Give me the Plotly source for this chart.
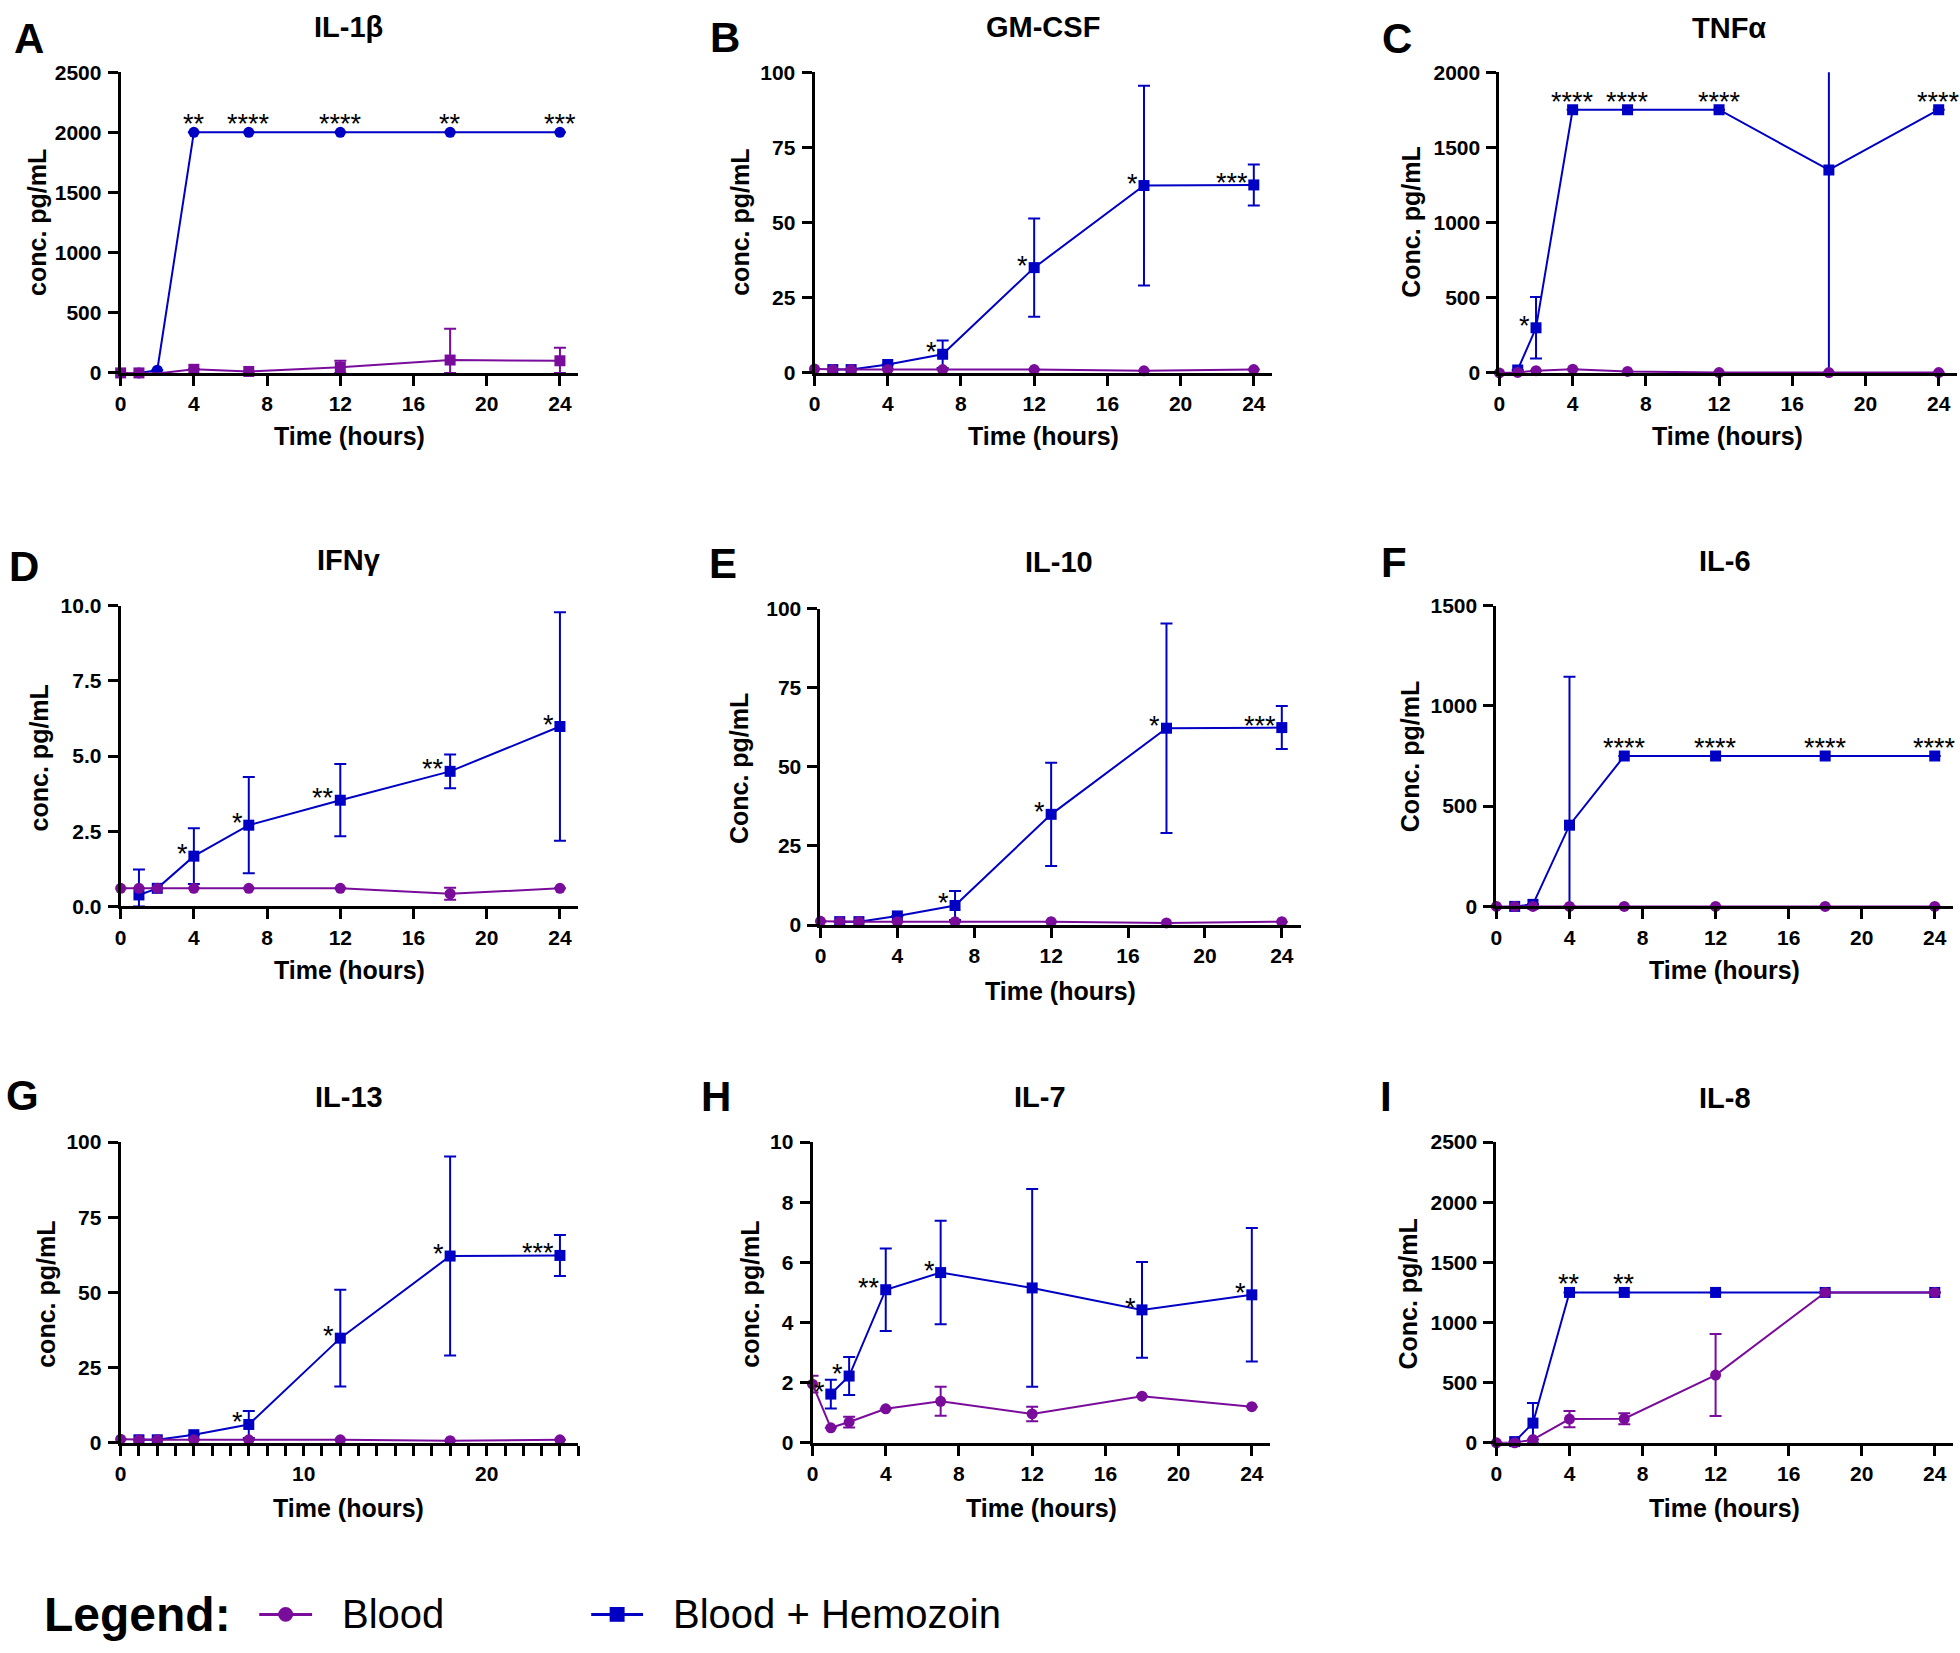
import plotly.graph_objects as go

W, H = 1960, 1653
BLUE = "#0000C4"
PURPLE = "#7A0C9C"
FONT = "Liberation Sans, Arial, sans-serif"

# ---------------- data ----------------
t_blood = [0, 1, 2, 4, 7, 12, 18, 24]
t_hz = [1, 2, 4, 7, 12, 18, 24]

il1b_blood = [0, 0, -5, 30, 12, 46, 107, 101]
il1b_blood_err = [0, 0, 0, 0, 0, 55, 260, 109]
il1b_hz = [0, 22, 2000, 2000, 2000, 2000, 2000]
il1b_hz_err = [0, 0, 0, 0, 0, 0, 0]
il1b_sig = ["", "", "**", "****", "****", "**", "***"]

gmcsf_blood = [1.3, 1.1, 1.1, 1.1, 1.1, 1.1, 0.7, 1.1]
gmcsf_blood_err = [0, 0, 0, 0, 0, 0, 0, 0]
gmcsf_hz = [1.1, 1.1, 2.8, 6.2, 35.0, 62.3, 62.5]
gmcsf_hz_err = [0, 0, 0, 4.6, 16.3, 33.2, 6.8]
gmcsf_sig = ["", "", "", "*", "*", "*", "***"]

tnfa_blood = [0, 3, 15, 25, 10, 2, 2, 2]
tnfa_blood_err = [0, 0, 0, 0, 0, 0, 0, 0]
tnfa_hz = [20, 300, 1750, 1750, 1750, 1350, 1750]
tnfa_hz_err = [0, 205, 0, 0, 0, 1350, 0]
tnfa_sig = ["", "*", "****", "****", "****", "", "****"]

ifng_blood = [0.6, 0.6, 0.6, 0.6, 0.6, 0.6, 0.42, 0.6]
ifng_blood_err = [0, 0, 0, 0, 0, 0, 0.2, 0]
ifng_hz = [0.38, 0.6, 1.67, 2.7, 3.53, 4.49, 5.98]
ifng_hz_err = [0.85, 0, 0.93, 1.6, 1.2, 0.56, 3.8]
ifng_sig = ["", "", "*", "*", "**", "**", "*"]

il10_blood = [1.2, 1.1, 1.1, 1.1, 1.1, 1.1, 0.7, 1.1]
il10_blood_err = [0, 0, 0, 0, 0, 0, 0, 0]
il10_hz = [1.1, 1.1, 2.9, 6.2, 35.0, 62.2, 62.4]
il10_hz_err = [0, 0, 0, 4.6, 16.3, 33.1, 6.8]
il10_sig = ["", "", "", "*", "*", "*", "***"]

il6_blood = [0, 0, 0, 0, 0, 0, 0, 0]
il6_blood_err = [0, 0, 0, 0, 0, 0, 0, 0]
il6_hz = [0, 10, 405, 750, 750, 750, 750]
il6_hz_err = [0, 0, 740, 0, 0, 0, 0]
il6_sig = ["", "", "", "****", "****", "****", "****"]

il13_blood = [1.2, 1.0, 1.0, 1.0, 1.0, 1.0, 0.7, 1.0]
il13_blood_err = [0, 0, 0, 0, 0, 0, 0, 0]
il13_hz = [1.0, 1.0, 2.7, 6.1, 34.8, 62.1, 62.3]
il13_hz_err = [0, 0, 0, 4.5, 16.1, 33.1, 6.8]
il13_sig = ["", "", "", "*", "*", "*", "***"]

il7_blood = [1.95, 0.5, 0.69, 1.13, 1.38, 0.96, 1.55, 1.2]
il7_blood_err = [0.28, 0, 0.18, 0, 0.48, 0.24, 0, 0]
il7_hz = [1.62, 2.22, 5.09, 5.66, 5.15, 4.42, 4.92]
il7_hz_err = [0.48, 0.63, 1.37, 1.72, 3.29, 1.59, 2.22]
il7_sig = ["*", "*", "**", "*", "", "*", "*"]

il8_blood = [0, 0, 27, 197, 200, 563, 1250, 1250]
il8_blood_err = [0, 0, 0, 68, 45, 341, 0, 0]
il8_hz = [10, 164, 1250, 1250, 1250, 1250, 1250]
il8_hz_err = [0, 167, 0, 0, 0, 0, 0]
il8_sig = ["", "", "**", "**", "", "", ""]

panels = [
    dict(letter="A", title="IL-1β", ytitle="conc. pg/mL", ymax=2500, ytick=[0, 500, 1000, 1500, 2000, 2500], yfmt="d",
         blood=il1b_blood, blood_err=il1b_blood_err, hz=il1b_hz, hz_err=il1b_hz_err, sig=il1b_sig,
         sig_style="above", swap=True, xmode="h4"),
    dict(letter="B", title="GM-CSF", ytitle="conc. pg/mL", ymax=100, ytick=[0, 25, 50, 75, 100], yfmt="d",
         blood=gmcsf_blood, blood_err=gmcsf_blood_err, hz=gmcsf_hz, hz_err=gmcsf_hz_err, sig=gmcsf_sig,
         sig_style="left", swap=False, xmode="h4"),
    dict(letter="C", title="TNFα", ytitle="Conc. pg/mL", ymax=2000, ytick=[0, 500, 1000, 1500, 2000], yfmt="d",
         blood=tnfa_blood, blood_err=tnfa_blood_err, hz=tnfa_hz, hz_err=tnfa_hz_err, sig=tnfa_sig,
         sig_style="mixed", swap=False, xmode="h4"),
    dict(letter="D", title="IFNγ", ytitle="conc. pg/mL", ymax=10, ytick=[0, 2.5, 5, 7.5, 10], yfmt=".1f",
         blood=ifng_blood, blood_err=ifng_blood_err, hz=ifng_hz, hz_err=ifng_hz_err, sig=ifng_sig,
         sig_style="left", swap=False, xmode="h4"),
    dict(letter="E", title="IL-10", ytitle="Conc. pg/mL", ymax=100, ytick=[0, 25, 50, 75, 100], yfmt="d",
         blood=il10_blood, blood_err=il10_blood_err, hz=il10_hz, hz_err=il10_hz_err, sig=il10_sig,
         sig_style="left", swap=False, xmode="h4"),
    dict(letter="F", title="IL-6", ytitle="Conc. pg/mL", ymax=1500, ytick=[0, 500, 1000, 1500], yfmt="d",
         blood=il6_blood, blood_err=il6_blood_err, hz=il6_hz, hz_err=il6_hz_err, sig=il6_sig,
         sig_style="above", swap=False, xmode="h4"),
    dict(letter="G", title="IL-13", ytitle="conc. pg/mL", ymax=100, ytick=[0, 25, 50, 75, 100], yfmt="d",
         blood=il13_blood, blood_err=il13_blood_err, hz=il13_hz, hz_err=il13_hz_err, sig=il13_sig,
         sig_style="left", swap=False, xmode="h10"),
    dict(letter="H", title="IL-7", ytitle="conc. pg/mL", ymax=10, ytick=[0, 2, 4, 6, 8, 10], yfmt="d",
         blood=il7_blood, blood_err=il7_blood_err, hz=il7_hz, hz_err=il7_hz_err, sig=il7_sig,
         sig_style="left", swap=False, xmode="h4"),
    dict(letter="I", title="IL-8", ytitle="Conc. pg/mL", ymax=2500, ytick=[0, 500, 1000, 1500, 2000, 2500], yfmt="d",
         blood=il8_blood, blood_err=il8_blood_err, hz=il8_hz, hz_err=il8_hz_err, sig=il8_sig,
         sig_style="above", swap=False, xmode="h4"),
]

# ---------------- layout geometry (pixels) ----------------
geom = {
    "A": dict(x0=115, x1=574, y0=61, y1=366, tt=(344, 15), lt=(23, 27), xt=(345, 430), yt=(31, 213)),
    "B": dict(x0=811, x1=1270, y0=61, y1=366, tt=(1040, 15), lt=(721, 26), xt=(1041, 430), yt=(736, 213)),
    "C": dict(x0=1498, x1=1957, y0=61, y1=366, tt=(1728, 16), lt=(1395, 27), xt=(1727, 430), yt=(1409, 213)),
    "D": dict(x0=115, x1=574, y0=602, y1=907, tt=(344, 556), lt=(18, 562), xt=(345, 972), yt=(34, 756)),
    "E": dict(x0=817, x1=1299, y0=605, y1=926, tt=(1056, 558), lt=(719, 559), xt=(1058, 993), yt=(736, 767)),
    "F": dict(x0=1495, x1=1953, y0=602, y1=907, tt=(1724, 557), lt=(1392, 558), xt=(1724, 972), yt=(1409, 755)),
    "G": dict(x0=115, x1=574, y0=1146, y1=1451, tt=(344, 1100), lt=(17, 1099), xt=(344, 1517), yt=(40, 1300)),
    "H": dict(x0=809, x1=1268, y0=1146, y1=1451, tt=(1037, 1100), lt=(712, 1100), xt=(1039, 1517), yt=(746, 1300)),
    "I": dict(x0=1495, x1=1953, y0=1146, y1=1451, tt=(1724, 1101), lt=(1384, 1100), xt=(1724, 1517), yt=(1406, 1300)),
}


def px(x):
    return x / W


def py(y):
    return 1 - y / H


fig = go.Figure()
annotations = []
shapes = []

bold = dict(family=FONT, color="black", weight="bold")


def err_arrays(vals, errs):
    plus, minus = [], []
    for v, e in zip(vals, errs):
        if e and e > 0:
            plus.append(e)
            minus.append(min(e, max(v, 0)))
        else:
            plus.append(None)
            minus.append(None)
    return plus, minus


for i, p in enumerate(panels):
    g = geom[p["letter"]]
    n = "" if i == 0 else str(i + 1)
    xa, ya = "x" + n, "y" + n
    xkey, ykey = "xaxis" + n, "yaxis" + n

    hz_sym, bl_sym = ("circle", "square") if p["swap"] else ("square", "circle")

    for name, xs, ys, es, color, sym in [
        ("Blood + Hemozoin", t_hz, p["hz"], p["hz_err"], BLUE, hz_sym),
        ("Blood", t_blood, p["blood"], p["blood_err"], PURPLE, bl_sym),
    ]:
        plus, minus = err_arrays(ys, es)
        over_top = any(e and v + e > p["ymax"] for v, e in zip(ys, es))
        fig.add_trace(go.Scatter(
            x=xs, y=ys, xaxis=xa, yaxis=ya, name=name, showlegend=False,
            mode="lines+markers",
            line=dict(color=color, width=2),
            marker=dict(color=color, size=11, symbol=sym),
            error_y=dict(type="data", symmetric=False, array=plus, arrayminus=minus,
                         color=color, thickness=2, width=6, visible=True),
            cliponaxis=over_top,
        ))

    # significance marks
    for k, s in enumerate(p["sig"]):
        if not s:
            continue
        style = p["sig_style"]
        if style == "mixed":
            style = "left" if s == "*" else "above"
        if style == "above":
            annotations.append(dict(x=t_hz[k], y=p["hz"][k], xref=xa, yref=ya, text=s, showarrow=False,
                                    xanchor="center", yanchor="middle", yshift=8,
                                    font=dict(family=FONT, size=27, color="black")))
        else:
            annotations.append(dict(x=t_hz[k], y=p["hz"][k], xref=xa, yref=ya, text=s, showarrow=False,
                                    xanchor="right", yanchor="middle", xshift=-4, yshift=2,
                                    font=dict(family=FONT, size=27, color="black")))

    axis_common = dict(showline=True, linewidth=3, linecolor="black", ticks="outside", ticklen=10,
                       tickwidth=3, tickcolor="black", showgrid=False, zeroline=False,
                       tickfont=dict(family=FONT, size=21, color="black", weight="bold"))
    if p["xmode"] == "h10":
        xaxis = dict(range=[0, 25], tickvals=[0, 10, 20],
                     minor=dict(tickvals=list(range(0, 26)), ticks="outside", ticklen=10, tickwidth=3,
                                tickcolor="black", showgrid=False), **axis_common)
    else:
        xaxis = dict(range=[0, 25], tickvals=[0, 4, 8, 12, 16, 20, 24], **axis_common)
    xaxis.update(domain=[px(g["x0"]), px(g["x1"])], anchor=ya, ticklabelstandoff=0)
    yaxis = dict(range=[0, p["ymax"]], tickvals=p["ytick"], tickformat=p["yfmt"],
                 domain=[py(g["y1"]), py(g["y0"])], anchor=xa, ticklabelstandoff=2, **axis_common)
    fig.update_layout({xkey: xaxis, ykey: yaxis})

    # titles, letters, axis labels
    annotations.append(dict(x=px(g["tt"][0]), y=py(g["tt"][1]), xref="paper", yref="paper", text=p["title"],
                            showarrow=False, xanchor="center", yanchor="middle", font=dict(size=29, **bold)))
    annotations.append(dict(x=px(g["lt"][0]), y=py(g["lt"][1]), xref="paper", yref="paper", text=p["letter"],
                            showarrow=False, xanchor="center", yanchor="middle", font=dict(size=42, **bold)))
    annotations.append(dict(x=px(g["xt"][0]), y=py(g["xt"][1]), xref="paper", yref="paper", text="Time (hours)",
                            showarrow=False, xanchor="center", yanchor="middle", font=dict(size=25, **bold)))
    annotations.append(dict(x=px(g["yt"][0]), y=py(g["yt"][1]), xref="paper", yref="paper", text=p["ytitle"],
                            showarrow=False, xanchor="center", yanchor="middle", textangle=-90,
                            font=dict(size=25, **bold)))

# ---------------- legend ----------------
LY = 1625
annotations.append(dict(x=px(36), y=py(LY), xref="paper", yref="paper", text="Legend:", showarrow=False,
                        xanchor="left", yanchor="middle", font=dict(size=48, **bold)))
annotations.append(dict(x=px(335), y=py(LY), xref="paper", yref="paper", text="Blood", showarrow=False,
                        xanchor="left", yanchor="middle", font=dict(family=FONT, size=40, color="black")))
annotations.append(dict(x=px(667), y=py(LY), xref="paper", yref="paper", text="Blood + Hemozoin", showarrow=False,
                        xanchor="left", yanchor="middle", font=dict(family=FONT, size=40, color="black")))
shapes.append(dict(type="line", xref="paper", yref="paper", x0=px(254), x1=px(307), y0=py(LY), y1=py(LY),
                   line=dict(color=PURPLE, width=3)))
shapes.append(dict(type="circle", xref="paper", yref="paper", x0=px(273), x1=px(288), y0=py(LY + 7.5),
                   y1=py(LY - 7.5), fillcolor=PURPLE, line=dict(color=PURPLE, width=0)))
shapes.append(dict(type="line", xref="paper", yref="paper", x0=px(587), x1=px(639), y0=py(LY), y1=py(LY),
                   line=dict(color=BLUE, width=3)))
shapes.append(dict(type="rect", xref="paper", yref="paper", x0=px(605.5), x1=px(620.5), y0=py(LY + 7.5),
                   y1=py(LY - 7.5), fillcolor=BLUE, line=dict(color=BLUE, width=0)))

fig.update_layout(width=W, height=H, margin=dict(l=0, r=0, t=0, b=0), paper_bgcolor="white",
                  plot_bgcolor="white", showlegend=False, annotations=annotations, shapes=shapes,
                  font=dict(family=FONT, color="black"))

fig.write_html("out.html", config={"displayModeBar": False},
               post_script="document.body.style.margin='0';document.body.style.overflow='hidden';")
